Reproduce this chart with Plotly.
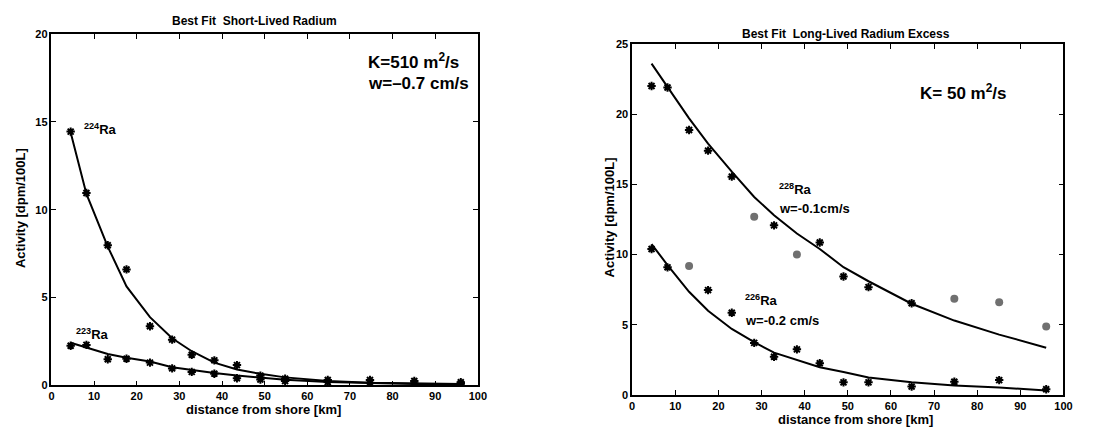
import plotly.graph_objects as go

# Station distances offshore [km]
distance_km = [4.5, 8.2, 13.2, 17.6, 23.1, 28.3, 32.9, 38.2, 43.5, 49.0, 54.8, 64.8, 74.7, 85.1, 96.0]

# Short-lived radium activities [dpm/100L]
ra224_obs = [14.45, 10.95, 7.98, 6.6, 3.36, 2.6, 1.74, 1.42, 1.15, 0.55, 0.37, 0.30, 0.30, 0.24, 0.17]
ra223_obs = [2.25, 2.3, 1.48, 1.51, 1.29, 0.96, 0.76, 0.66, 0.40, 0.33, 0.24, 0.18, 0.15, 0.12, 0.08]
ra224_fit = [14.4, 10.9, 7.9, 5.63, 3.88, 2.68, 1.94, 1.29, 0.9, 0.65, 0.45, 0.25, 0.15, 0.1, 0.07]
ra223_fit = [2.42, 2.15, 1.78, 1.57, 1.35, 1.03, 0.87, 0.70, 0.55, 0.43, 0.31, 0.18, 0.11, 0.07, 0.04]

# Long-lived radium excess activities [dpm/100L]
ra228_obs = [22.0, 21.9, 18.87, 17.4, 15.55, 12.7, 12.08, 10.0, 10.86, 8.44, 7.68, 6.53, 6.85, 6.6, 4.87]
ra228_used = [1, 1, 1, 1, 1, 0, 1, 0, 1, 1, 1, 1, 0, 0, 0]
ra226_obs = [10.4, 9.09, 9.18, 7.47, 5.86, 3.71, 2.72, 3.25, 2.26, 0.9, 0.9, 0.6, 0.94, 1.06, 0.41]
ra226_used = [1, 1, 0, 1, 1, 1, 1, 1, 1, 1, 1, 1, 1, 1, 1]
ra228_fit = [23.6, 21.9, 19.7, 17.9, 15.9, 14.1, 12.8, 11.5, 10.4, 9.1, 8.1, 6.5, 5.3, 4.3, 3.37]
ra226_fit = [10.75, 9.25, 7.35, 6.0, 4.7, 3.76, 3.02, 2.51, 1.98, 1.63, 1.25, 0.9, 0.67, 0.53, 0.32]

FONT = "Liberation Sans"
W, H = 1114, 436

fig = go.Figure()


def add_series(xs, obs, fit, used, xa, ya):
    fig.add_trace(go.Scatter(x=xs, y=fit, mode="lines", xaxis=xa, yaxis=ya,
                             line=dict(color="black", width=2), showlegend=False))
    kx = [x for x, u in zip(xs, used) if u]
    ky = [y for y, u in zip(obs, used) if u]
    gx = [x for x, u in zip(xs, used) if not u]
    gy = [y for y, u in zip(obs, used) if not u]
    if gx:
        fig.add_trace(go.Scatter(x=gx, y=gy, mode="markers", xaxis=xa, yaxis=ya,
                                 marker=dict(symbol="circle", size=8, color="#707070"),
                                 showlegend=False))
    fig.add_trace(go.Scatter(x=kx, y=ky, mode="markers", xaxis=xa, yaxis=ya,
                             marker=dict(symbol="circle", size=5, color="black"),
                             showlegend=False))
    fig.add_trace(go.Scatter(x=kx, y=ky, mode="markers", xaxis=xa, yaxis=ya,
                             marker=dict(symbol="asterisk-open", size=7, color="black",
                                         line=dict(color="black", width=2)),
                             showlegend=False))


all_used = [1] * len(distance_km)
add_series(distance_km, ra224_obs, ra224_fit, all_used, "x", "y")
add_series(distance_km, ra223_obs, ra223_fit, all_used, "x", "y")
add_series(distance_km, ra228_obs, ra228_fit, ra228_used, "x2", "y2")
add_series(distance_km, ra226_obs, ra226_fit, ra226_used, "x2", "y2")

axis_common = dict(
    showgrid=False, zeroline=False, showline=True, linecolor="black", linewidth=1.5,
    mirror="ticks", ticks="inside", ticklen=5, tickwidth=1, tickcolor="black",
    tickfont=dict(family=FONT, size=11, color="black", weight="bold"),
)

fig.update_layout(
    width=W, height=H,
    margin=dict(l=0, r=0, t=0, b=0),
    paper_bgcolor="white", plot_bgcolor="white",
    xaxis=dict(domain=[49 / W, 480 / W], range=[0, 100], dtick=10, anchor="y", **axis_common),
    yaxis=dict(domain=[(H - 390) / H, (H - 29) / H], range=[0, 20], dtick=5, anchor="x",
               **axis_common),
    xaxis2=dict(domain=[636 / W, 1072 / W], range=[0, 100], dtick=10, anchor="y2", **axis_common),
    yaxis2=dict(domain=[(H - 400) / H, (H - 39) / H], range=[0, 25], dtick=5, anchor="x2",
                **axis_common),
)


def text(x, y, s, size, xref="x", yref="y", xanchor="left", angle=0):
    fig.add_annotation(x=x, y=y, xref=xref, yref=yref, text=s, showarrow=False,
                       xanchor=xanchor, yanchor="middle", textangle=angle,
                       font=dict(family=FONT, size=size, color="black", weight="bold"))


# Panel titles and axis titles
text(254 / W, 1 - 15 / H, "Best Fit  Short-Lived Radium", 12, "paper", "paper", "center")
text(852 / W, 1 - 29 / H, "Best Fit  Long-Lived Radium Excess", 12, "paper", "paper", "center")
text(263 / W, 1 - 415 / H, "distance from shore [km]", 13, "paper", "paper", "center")
text(862 / W, 1 - 425 / H, "distance from shore [km]", 13, "paper", "paper", "center")
text(17 / W, 1 - 208 / H, "Activity [dpm/100L]", 13, "paper", "paper", "center", -90)
text(613 / W, 1 - 217 / H, "Activity [dpm/100L]", 13, "paper", "paper", "center", -90)

# Left panel labels
text(73.8, 18.45, "K=510 m<sup>2</sup>/s", 17)
text(73.8, 17.2, "w=–0.7 cm/s", 17)
text(7.2, 14.6, "<sup>224</sup>Ra", 13)
text(5.3, 2.9, "<sup>223</sup>Ra", 13)

# Right panel labels
text(66.3, 21.6, "K= 50 m<sup>2</sup>/s", 17, "x2", "y2")
text(33.5, 14.7, "<sup>228</sup>Ra", 13, "x2", "y2")
text(33.5, 13.25, "w=-0.1cm/s", 13, "x2", "y2")
text(25.7, 6.75, "<sup>226</sup>Ra", 13, "x2", "y2")
text(25.7, 5.3, "w=-0.2 cm/s", 13, "x2", "y2")

fig.write_html("out.html")
